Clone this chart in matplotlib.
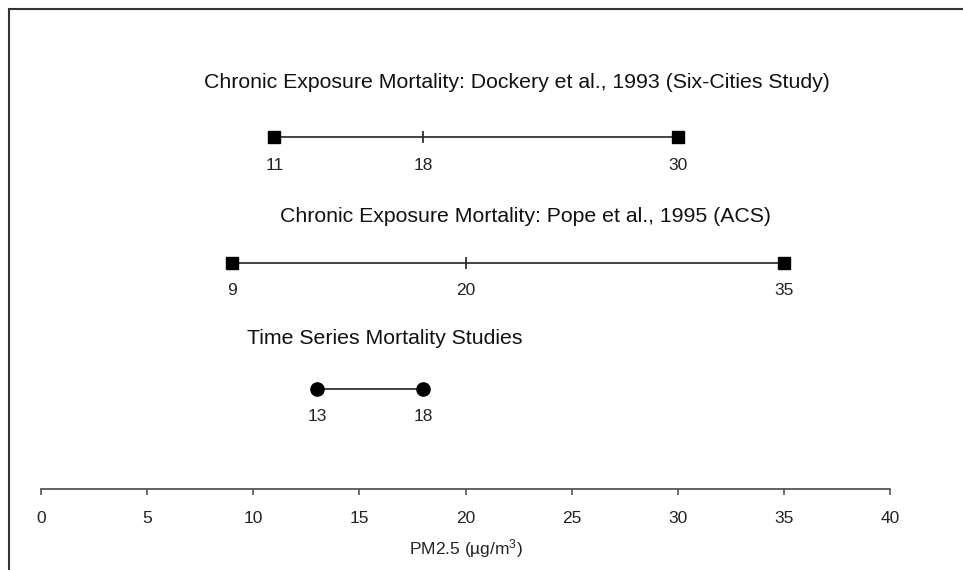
#!/usr/bin/env python3
# -*- coding: utf-8 -*-

import matplotlib
matplotlib.use("Agg")
import matplotlib.pyplot as plt
from matplotlib.lines import Line2D

# ==============================================================================
# 数据
# ==============================================================================
study_titles = [
    "Chronic Exposure Mortality: Dockery et al., 1993 (Six-Cities Study)",
    "Chronic Exposure Mortality: Pope et al., 1995 (ACS)",
    "Time Series Mortality Studies",
]
range_low = [11, 9, 13]
range_mid = [18, 20, None]
range_high = [30, 35, 18]
end_markers = ["s", "s", "o"]

x_ticks = [0, 5, 10, 15, 20, 25, 30, 35, 40]
x_label = "PM2.5 (\u00b5g/m$^{3}$)"

# ==============================================================================
# 布局
# ==============================================================================
ROW_Y = [2.8, 1.8, 0.8]
TITLE_X = [22.43, 22.83, 16.2]
TITLE_DY = [0.393, 0.326, 0.354]
FONT = "Liberation Sans"

plt.rcParams["font.family"] = [FONT, "DejaVu Sans"]
plt.rcParams["mathtext.fontset"] = "custom"
plt.rcParams["mathtext.rm"] = FONT
plt.rcParams["mathtext.it"] = FONT

fig = plt.figure(figsize=(9.63, 5.70), dpi=100)
ax = fig.add_axes([41 / 963, 81 / 570, 849 / 963, 477.3 / 570])
ax.set_xlim(0, 40)
ax.set_ylim(0, 3.8)

line_col = "#222222"
for i, title in enumerate(study_titles):
    y = ROW_Y[i]
    lo, hi, mid = range_low[i], range_high[i], range_mid[i]
    ax.plot([lo, hi], [y, y], color=line_col, lw=1.2, zorder=2)
    ax.plot([lo, hi], [y, y], ls="none", marker=end_markers[i],
            markersize=8 if end_markers[i] == "s" else 9.5,
            color="black", zorder=3)
    vals = [lo, hi]
    if mid is not None:
        ax.plot([mid], [y], ls="none", marker="|", markersize=9,
                markeredgewidth=1.2, color=line_col, zorder=3)
        vals = [lo, mid, hi]
    for v in vals:
        ax.annotate(str(v), xy=(v, y), xytext=(0, -23.3),
                    textcoords="offset points", ha="center", va="baseline",
                    fontsize=12.5, color="#222222")
    ax.text(TITLE_X[i], y + TITLE_DY[i], title, ha="center", va="baseline",
            fontsize=15.3, color="#111111")

# x 轴
for s in ["left", "top", "right"]:
    ax.spines[s].set_visible(False)
ax.spines["bottom"].set_color("#555555")
ax.spines["bottom"].set_linewidth(1.3)
ax.set_yticks([])
ax.set_xticks(x_ticks)
ax.set_xticklabels([str(t) for t in x_ticks], fontsize=12.5, color="#222222")
ax.tick_params(axis="x", direction="out", length=4, width=1.2,
               color="#555555", pad=12)
ax.set_xlabel(x_label, fontsize=12.5, color="#222222", labelpad=8)

# 外框（只见左、上两边）
fig.add_artist(Line2D([8.5 / 963, 8.5 / 963], [0, 1 - 9.3 / 570],
                      transform=fig.transFigure, color="#333333", lw=1.5))
fig.add_artist(Line2D([8.5 / 963, 1], [1 - 9.3 / 570, 1 - 9.3 / 570],
                      transform=fig.transFigure, color="#333333", lw=1.5))

fig.savefig("out.png", dpi=100, facecolor="white")
